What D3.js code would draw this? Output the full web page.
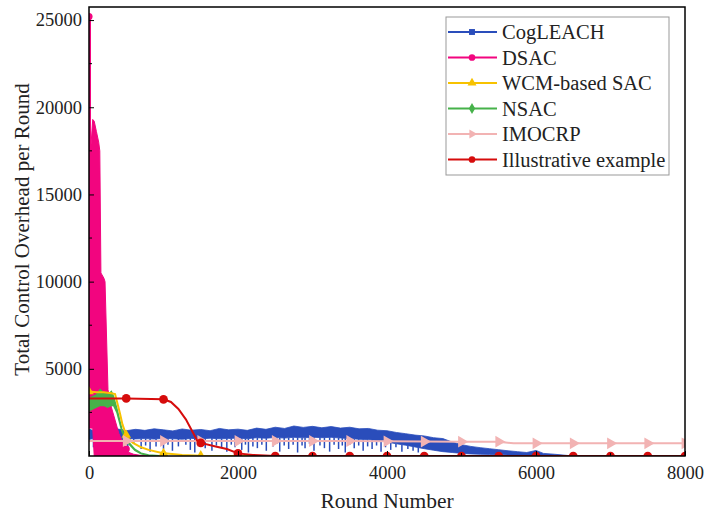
<!DOCTYPE html>
<html>
<head>
<meta charset="utf-8">
<script src="https://cdn.jsdelivr.net/npm/d3@7"></script>
<style>
  body { margin: 0; background: #fff; }
  text { font-family: "Liberation Serif", "Times New Roman", "DejaVu Serif", serif; fill: #222; }
</style>
</head>
<body>
<div class="chart"></div>
<script>
// Total control overhead per round
var xTicks = [0, 2000, 4000, 6000, 8000];
var yTicks = [5000, 10000, 15000, 20000, 25000];

// CogLEACH: noisy band (upper / lower edge) plus downward dips
var cogRounds = [0, 60, 125, 250, 375, 500, 625, 750, 875, 1000, 1125, 1250, 1375, 1500, 1625, 1750, 1875, 2000, 2125, 2250, 2375, 2500, 2625, 2750, 2875, 3000, 3125, 3250, 3375, 3500, 3625, 3750, 3875, 4000, 4125, 4250, 4375, 4500, 4625, 4750, 4875, 5000, 5125, 5250, 5375, 5500, 5625, 5750, 5875, 6000, 6100, 6250, 6400, 6500];
var cogHigh = [1550, 1450, 1520, 1480, 1560, 1450, 1530, 1470, 1560, 1500, 1440, 1550, 1480, 1520, 1450, 1580, 1500, 1540, 1470, 1600, 1530, 1650, 1580, 1720, 1640, 1700, 1620, 1690, 1600, 1650, 1560, 1580, 1480, 1450, 1350, 1280, 1200, 1150, 1050, 1000, 800, 650, 550, 480, 420, 360, 300, 250, 200, 320, 150, 100, 40, 0];
var cogLow = [950, 1000, 980, 1020, 960, 1010, 980, 1000, 970, 1010, 990, 960, 1010, 980, 1020, 990, 1000, 1030, 990, 1050, 1020, 1060, 1030, 1070, 1040, 1080, 1050, 1070, 1030, 1000, 960, 940, 880, 800, 700, 620, 520, 420, 330, 250, 200, 150, 120, 100, 90, 80, 60, 50, 40, 30, 20, 0, 0, 0];
var cogDips = [[60, 500], [150, 650], [230, 300], [320, 700], [380, 350], [450, 600], [520, 250], [600, 700], [700, 400], [760, 600], [820, 250], [900, 550], [1000, 400], [1060, 650], [1120, 300], [1200, 550], [1300, 650], [1360, 350], [1420, 200], [1490, 600], [1560, 450], [1650, 300], [1710, 600], [1780, 450], [1850, 250], [1910, 650], [1960, 500], [2050, 350], [2100, 650], [2140, 200], [2200, 550], [2260, 450], [2320, 650], [2380, 300], [2470, 550], [2520, 700], [2560, 250], [2620, 600], [2680, 400], [2740, 650], [2800, 200], [2860, 600], [2900, 450], [2960, 700], [3020, 300], [3100, 600], [3160, 450], [3230, 250], [3290, 650], [3350, 400], [3400, 600], [3440, 200], [3500, 650], [3560, 450], [3620, 600], [3680, 300], [3740, 550], [3800, 400], [3860, 600], [3920, 250], [3980, 500], [4050, 350], [4120, 500], [4200, 250], [4280, 400], [4350, 300], [4420, 200]];

// DSAC: band
var dsacRounds = [0, 15, 25, 50, 70, 100, 130, 145, 160, 200, 215, 255, 300, 350, 400, 455, 520, 600, 700, 800];
var dsacHigh = [25200, 17600, 17700, 19300, 19200, 18600, 18000, 17500, 10500, 10200, 10000, 3800, 2800, 2060, 1300, 750, 230, 100, 30, 0];
var dsacLow = [1600, 1600, 1600, 1600, 0, 0, 0, 0, 0, 0, 0, 0, 0, 0, 0, 0, 0, 0, 0, 0];
var dsacMarks = [[0, 25200], [500, 400], [1000, 0]];

// NSAC: band then decay
var nsacRounds = [0, 50, 100, 150, 200, 250, 300, 330, 375, 440, 500, 617, 700, 800, 1000];
var nsacHigh = [3300, 3400, 3500, 3800, 3600, 3500, 3700, 3400, 2700, 1550, 950, 380, 160, 60, 0];
var nsacLow = [2600, 2700, 2800, 2900, 2900, 2800, 2900, 2900, 2500, 1450, 850, 320, 130, 30, 0];
var nsacMarks = [[0, 3000], [500, 900], [1000, 0]];

// WCM-based SAC
var wcmRounds = [0, 100, 200, 300, 350, 415, 450, 510, 590, 700, 800, 980, 1250, 1500, 2000, 8000];
var wcmValues = [3700, 3650, 3650, 3600, 3550, 2450, 1800, 1090, 750, 500, 350, 170, 60, 20, 0, 0];
var wcmMarks = [0, 500, 1000, 1500];

// IMOCRP
var imoRounds = [0, 500, 1000, 1500, 2000, 2500, 3000, 3500, 4000, 4500, 5000, 5500, 5700, 6000, 6500, 7000, 7500, 8000];
var imoValues = [860, 860, 860, 860, 860, 860, 860, 860, 840, 830, 820, 820, 730, 730, 730, 730, 730, 730];

// Illustrative example
var illRounds = [0, 500, 1000, 1100, 1200, 1300, 1400, 1450, 1500, 1700, 1850, 2000, 2200, 2500, 3000, 3500, 4000, 4500, 5000, 5500, 6000, 6500, 7000, 7500, 8000];
var illValues = [3300, 3300, 3250, 3100, 2700, 2100, 1300, 900, 750, 550, 400, 150, 60, 0, 0, 0, 0, 0, 0, 0, 0, 0, 0, 0, 0];

var legendNames = ["CogLEACH", "DSAC", "WCM-based SAC", "NSAC", "IMOCRP", "Illustrative example"];
var legendColors = ["#2a4dbb", "#f2057f", "#f7c200", "#46b24a", "#f2b3b3", "#d60c0c"];
var legendShapes = [d3.symbolSquare, d3.symbolCircle, d3.symbolTriangle, d3.symbolDiamond, "right", d3.symbolCircle];

var svgWidth = 707;
var svgHeight = 517;
var margin = {top: 7, right: 22, bottom: 61, left: 89};
var width = svgWidth - margin.left - margin.right;
var height = svgHeight - margin.top - margin.bottom;

var svg = d3.select(".chart").append("svg")
  .attr("width", svgWidth)
  .attr("height", svgHeight);
var chart = svg.append("g")
  .attr("transform", "translate(" + margin.left + "," + margin.top + ")");

var x = d3.scaleLinear().domain([0, 8000]).range([0, width]);
var y = d3.scaleLinear().domain([0, 25750]).range([height, 0]);

chart.append("clipPath").attr("id", "clip")
  .append("rect").attr("width", width).attr("height", height);
var plot = chart.append("g").attr("clip-path", "url(#clip)");

function zip(rs, vs) { return rs.map(function(r, i) { return [r, vs[i]]; }); }
function band(rs, hi, lo) { return rs.map(function(r, i) { return [r, hi[i], lo[i]]; }); }

var area = d3.area()
  .x(function(d) { return x(d[0]); })
  .y0(function(d) { return y(d[2]); })
  .y1(function(d) { return y(d[1]); });
var line = d3.line()
  .x(function(d) { return x(d[0]); })
  .y(function(d) { return y(d[1]); });

function symbolPath(shape, size) {
  if (shape === "right") {
    return d3.symbol().type(d3.symbolTriangle).size(size)();
  }
  return d3.symbol().type(shape).size(size)();
}
function drawMarks(pts, color, shape, size) {
  plot.selectAll(null).data(pts).enter().append("path")
    .attr("d", symbolPath(shape, size))
    .attr("transform", function(d) {
      return "translate(" + x(d[0]) + "," + y(d[1]) + ")" + (shape === "right" ? " rotate(90)" : "");
    })
    .attr("fill", color);
}

// CogLEACH
var cogBand = band(cogRounds, cogHigh, cogLow);
plot.append("path").datum(cogBand).attr("d", area)
  .attr("fill", legendColors[0]).attr("stroke", legendColors[0]).attr("stroke-width", 0.8);
var lowAt = d3.scaleLinear().domain(cogRounds).range(cogLow);
plot.selectAll(null).data(cogDips).enter().append("line")
  .attr("x1", function(d) { return x(d[0]); })
  .attr("x2", function(d) { return x(d[0]); })
  .attr("y1", function(d) { return y(lowAt(d[0])); })
  .attr("y2", function(d) { return y(d[1]); })
  .attr("stroke", legendColors[0]).attr("stroke-width", 1.5);

// DSAC
plot.append("path").datum(band(dsacRounds, dsacHigh, dsacLow)).attr("d", area)
  .attr("fill", legendColors[1]).attr("stroke", legendColors[1]).attr("stroke-width", 1);
plot.append("line")
  .attr("x1", x(0) + 1).attr("x2", x(0) + 1)
  .attr("y1", y(dsacMarks[0][1])).attr("y2", y(17600))
  .attr("stroke", legendColors[1]).attr("stroke-width", 2);
drawMarks(dsacMarks, legendColors[1], d3.symbolCircle, 40);

// NSAC
plot.append("path").datum(band(nsacRounds, nsacHigh, nsacLow)).attr("d", area)
  .attr("fill", legendColors[3]).attr("stroke", legendColors[3]).attr("stroke-width", 1.5);
drawMarks(nsacMarks, legendColors[3], d3.symbolDiamond, 30);

// WCM-based SAC
plot.append("path").datum(zip(wcmRounds, wcmValues)).attr("d", line)
  .attr("fill", "none").attr("stroke", legendColors[2]).attr("stroke-width", 2);
drawMarks(wcmMarks.map(function(r) { return [r, d3.scaleLinear().domain(wcmRounds).range(wcmValues)(r)]; }),
  legendColors[2], d3.symbolTriangle, 40);

// IMOCRP
plot.append("path").datum(zip(imoRounds, imoValues)).attr("d", line)
  .attr("fill", "none").attr("stroke", legendColors[4]).attr("stroke-width", 2);
drawMarks(zip(imoRounds, imoValues).filter(function(d) { return d[0] % 500 === 0 && d[0] > 0; }),
  legendColors[4], "right", 60);

// Illustrative example
plot.append("path").datum(zip(illRounds, illValues)).attr("d", line)
  .attr("fill", "none").attr("stroke", legendColors[5]).attr("stroke-width", 2);
drawMarks(zip(illRounds, illValues).filter(function(d) { return d[0] % 500 === 0 && d[0] > 0; }),
  legendColors[5], d3.symbolCircle, 60);

// Axes: inward ticks, frame box
var bottomAxis = d3.axisBottom(x).tickValues(xTicks).tickSize(-5).tickPadding(10).tickFormat(d3.format("d"));
var leftAxis = d3.axisLeft(y).tickValues(yTicks).tickSize(-5).tickPadding(7).tickFormat(d3.format("d"));
var xg = chart.append("g").attr("transform", "translate(0," + height + ")").call(bottomAxis);
var yg = chart.append("g").call(leftAxis);
[xg, yg].forEach(function(g) {
  g.attr("font-family", null).attr("font-size", null);
  g.select(".domain").remove();
  g.selectAll("text").style("font-size", "18.5px").attr("fill", "#222");
});
// minor ticks
chart.selectAll(null).data([2500, 7500, 12500, 17500, 22500]).enter().append("line")
  .attr("x1", 0).attr("x2", 3).attr("y1", y).attr("y2", y).attr("stroke", "#000");
chart.selectAll(null).data([1000, 3000, 5000, 7000]).enter().append("line")
  .attr("x1", x).attr("x2", x).attr("y1", height).attr("y2", height - 3).attr("stroke", "#000");
chart.append("rect").attr("width", width).attr("height", height)
  .attr("fill", "none").attr("stroke", "#000").attr("stroke-width", 1.5);

// Axis titles
chart.append("text")
  .attr("transform", "translate(" + (width / 2) + "," + (height + 52) + ")")
  .attr("text-anchor", "middle").style("font-size", "21.5px")
  .text("Round Number");
chart.append("text")
  .attr("transform", "rotate(-90)")
  .attr("x", -height / 2 + 2).attr("y", -margin.left + 29)
  .attr("text-anchor", "middle").style("font-size", "21px")
  .text("Total Control Overhead per Round");

// Legend
var legend = chart.append("g").attr("transform", "translate(" + (446 - margin.left) + "," + (17 - margin.top) + ")");
legend.append("rect").attr("width", 223).attr("height", 158)
  .attr("fill", "#fff").attr("stroke", "#999").attr("stroke-width", 1);
var item = legend.selectAll(".item").data(legendNames).enter().append("g")
  .attr("transform", function(d, i) { return "translate(0," + (15 + i * 25.5) + ")"; });
item.append("line").attr("x1", 2).attr("x2", 51)
  .attr("stroke", function(d, i) { return legendColors[i]; }).attr("stroke-width", 2);
item.append("path")
  .attr("d", function(d, i) { return symbolPath(legendShapes[i], 35); })
  .attr("transform", function(d, i) { return "translate(26,0)" + (legendShapes[i] === "right" ? " rotate(90)" : ""); })
  .attr("fill", function(d, i) { return legendColors[i]; });
item.append("text").attr("x", 56).attr("dy", "0.35em")
  .style("font-size", "20.5px")
  .text(function(d) { return d; });
</script>
</body>
</html>
